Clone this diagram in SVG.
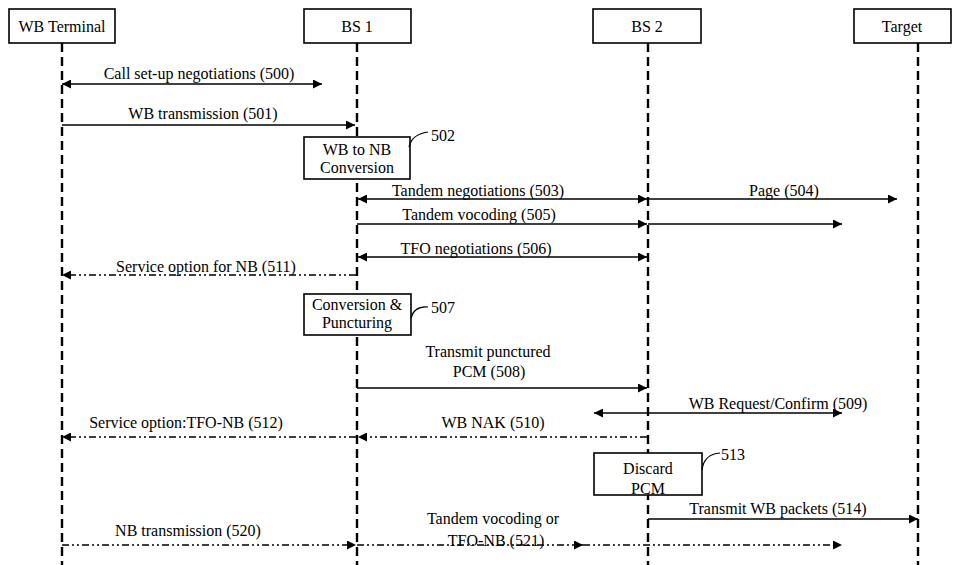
<svg xmlns="http://www.w3.org/2000/svg" width="954" height="565" viewBox="0 0 954 565" font-family="'Liberation Serif', 'Times New Roman', 'DejaVu Serif', serif" font-size="16">
<style>
text{font-family:'Liberation Serif','Times New Roman','DejaVu Serif',serif;font-size:16px;fill:#000}
.c{text-anchor:middle}
.box{fill:#fff;stroke:#000;stroke-width:1.6}
.life{stroke:#000;stroke-width:2.4;stroke-dasharray:9 5;fill:none}
.m{stroke:#000;stroke-width:1.6;fill:none}
.dd{stroke:#000;stroke-width:1.6;fill:none;stroke-dasharray:7 3 2 3 2 3}
.lead{stroke:#000;stroke-width:1.2;fill:none}
</style>
<defs>
<marker id="ah" viewBox="0 0 10 10" refX="10" refY="5" markerWidth="11" markerHeight="9" markerUnits="userSpaceOnUse" orient="auto-start-reverse"><path d="M0,0 L10,5 L0,10 z" fill="#000"/></marker>
</defs>
<rect width="954" height="565" fill="#fff"/>
<g id="lifelines">
<line class="life" x1="62" y1="43" x2="62" y2="565"/>
<line class="life" x1="357" y1="43" x2="357" y2="565"/>
<line class="life" x1="648" y1="43" x2="648" y2="565"/>
<line class="life" x1="918" y1="43" x2="918" y2="565"/>
</g>
<g id="wbterminal"><rect class="box" x="9" y="9" width="106" height="34"/><text class="c" x="62" y="32">WB Terminal</text></g>
<g id="bs1"><rect class="box" x="304" y="9" width="107" height="34"/><text class="c" x="357" y="32">BS 1</text></g>
<g id="bs2"><rect class="box" x="593" y="9" width="108" height="34"/><text class="c" x="647" y="32">BS 2</text></g>
<g id="target"><rect class="box" x="854" y="9" width="97" height="34"/><text class="c" x="902" y="32">Target</text></g>
<g id="connectors">
<line class="m" x1="62" y1="84" x2="322" y2="84" marker-start="url(#ah)" marker-end="url(#ah)"/>
<line class="m" x1="62" y1="125" x2="355" y2="125" marker-end="url(#ah)"/>
<line class="m" x1="358" y1="199" x2="647" y2="199" marker-start="url(#ah)" marker-end="url(#ah)"/>
<line class="m" x1="648" y1="199" x2="897" y2="199" marker-end="url(#ah)"/>
<line class="m" x1="357" y1="224" x2="647" y2="224" marker-end="url(#ah)"/>
<line class="m" x1="648" y1="224" x2="842" y2="224" marker-end="url(#ah)"/>
<line class="m" x1="358" y1="257" x2="647" y2="257" marker-start="url(#ah)" marker-end="url(#ah)"/>
<line class="dd" x1="356" y1="275" x2="62" y2="275" marker-end="url(#ah)"/>
<line class="m" x1="357" y1="388" x2="647" y2="388" marker-end="url(#ah)"/>
<line class="m" x1="594" y1="413" x2="842" y2="413" marker-start="url(#ah)" marker-end="url(#ah)"/>
<line class="dd" x1="647" y1="437" x2="358" y2="437" marker-end="url(#ah)"/>
<line class="dd" x1="356" y1="437" x2="62" y2="437" marker-end="url(#ah)"/>
<line class="m" x1="648" y1="519" x2="918" y2="519" marker-end="url(#ah)"/>
<line class="dd" x1="62" y1="545" x2="356" y2="545" marker-end="url(#ah)"/>
<line class="dd" x1="357" y1="545" x2="583" y2="545" marker-end="url(#ah)"/>
<line class="dd" x1="583" y1="545" x2="842" y2="545" marker-end="url(#ah)"/>
</g>
<g id="labels">
<text class="c" x="199" y="79">Call set-up negotiations (500)</text>
<text class="c" x="203" y="119">WB transmission (501)</text>
<text class="c" x="478" y="196">Tandem negotiations (503)</text>
<text class="c" x="784" y="196">Page (504)</text>
<text class="c" x="479" y="220">Tandem vocoding (505)</text>
<text class="c" x="476" y="254">TFO negotiations (506)</text>
<text class="c" x="206" y="272">Service option for NB (511)</text>
<text class="c" x="488" y="357">Transmit punctured</text>
<text class="c" x="489" y="377">PCM (508)</text>
<text class="c" x="778" y="409">WB Request/Confirm (509)</text>
<text class="c" x="493" y="428">WB NAK (510)</text>
<text class="c" x="186" y="428">Service option:TFO-NB (512)</text>
<text class="c" x="778" y="514">Transmit WB packets (514)</text>
<text class="c" x="188" y="536">NB transmission (520)</text>
<text class="c" x="493" y="524">Tandem vocoding or</text>
<text class="c" x="496" y="546">TFO-NB (521)</text>
</g>
<g id="n502"><rect class="box" x="304" y="137" width="106" height="42"/><text class="c" x="357" y="155">WB to NB</text><text class="c" x="357" y="173">Conversion</text><path class="lead" d="M409,147 Q412,134 428,132"/><text x="431" y="141">502</text></g>
<g id="n507"><rect class="box" x="304" y="294" width="107" height="41"/><text class="c" x="357" y="310">Conversion &amp;</text><text class="c" x="357" y="328">Puncturing</text><path class="lead" d="M411,318 Q414,306 428,307"/><text x="431" y="313">507</text></g>
<g id="n513"><rect class="box" x="594" y="453" width="108" height="42"/><text class="c" x="648" y="474">Discard</text><text class="c" x="648" y="494">PCM</text><path class="lead" d="M702,470 Q704,454 720,453"/><text x="721" y="460">513</text></g>
</svg>
